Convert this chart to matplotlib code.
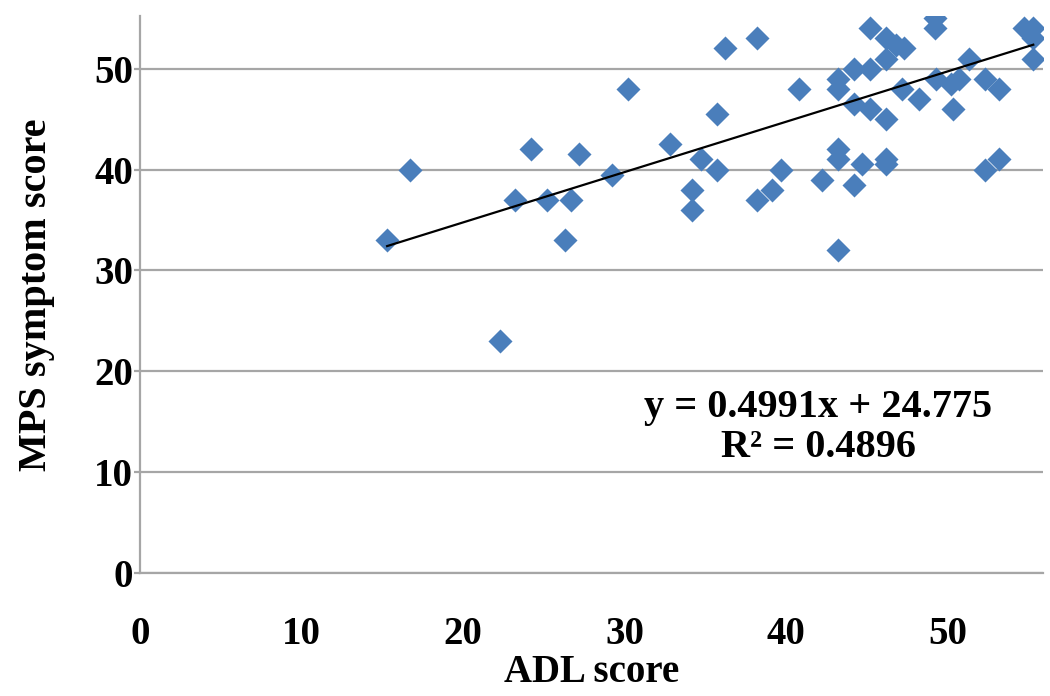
import numpy as np
import matplotlib
matplotlib.use("Agg")
import matplotlib.pyplot as plt

# ADL score vs MPS symptom score
adl = [15.3, 16.7, 22.3, 23.2, 24.2, 25.2, 26.3, 26.7, 27.2, 29.2,
       30.2, 32.8, 34.2, 34.2, 34.7, 35.7, 35.7, 36.2, 38.2, 38.2,
       39.1, 39.7, 40.8, 42.2, 43.2, 43.2, 43.2, 43.2, 43.2, 44.2,
       44.7, 44.2, 44.2, 45.2, 45.2, 45.2, 46.2, 46.2, 46.2, 46.2,
       46.2, 46.8, 47.3, 47.2, 48.2, 49.2, 49.2, 49.3, 50.3, 50.2,
       50.7, 51.3, 52.3, 53.2, 52.3, 53.2, 54.7, 55.3, 55.3, 55.3]
mps = [33, 40, 23, 37, 42, 37, 33, 37, 41.5, 39.5,
       48, 42.5, 38, 36, 41, 40, 45.5, 52, 53, 37,
       38, 40, 48, 39, 32, 42, 41, 49, 48, 38.5,
       40.5, 50, 46.5, 54, 50, 46, 45, 41, 40.5, 53,
       51, 52.3, 52, 48, 47, 55, 54, 49, 46, 48.5,
       49, 51, 49, 48, 40, 41, 54, 54, 53, 51]

slope = 0.4991
intercept = 24.775
r2 = 0.4896

xticks = [0, 10, 20, 30, 40, 50]
yticks = [0, 10, 20, 30, 40, 50]

plt.rcParams['font.family'] = ['Liberation Serif', 'DejaVu Serif']
plt.rcParams['font.weight'] = 'bold'

fig = plt.figure(figsize=(10.5, 6.96), dpi=100)
ax = fig.add_axes([0.1333, 0.1767, 0.86, 0.80])

ax.scatter(adl, mps, marker='D', s=150, color='#4a7ebb', zorder=3, linewidths=0)

# linear trend line over the data range
xs = np.array([min(adl), max(adl)])
ax.plot(xs, slope * xs + intercept, color='black', lw=1.6, zorder=4)

ax.set_xlim(0, 55.9)
ax.set_ylim(0, 55.2)
ax.set_xticks(xticks)
ax.set_yticks(yticks)
ax.grid(axis='y', color='#a6a6a6', lw=1.6)
ax.set_axisbelow(True)

for side in ['top', 'right']:
    ax.spines[side].set_visible(False)
for side in ['left', 'bottom']:
    ax.spines[side].set_color('#a6a6a6')
    ax.spines[side].set_linewidth(1.6)

ax.tick_params(axis='y', length=4, width=1.6, color='#a6a6a6', labelsize=28, pad=1)
ax.tick_params(axis='x', length=0, labelsize=28, pad=31)
for lab in ax.get_xticklabels() + ax.get_yticklabels():
    lab.set_fontweight('bold')

ax.set_xlabel("ADL score", fontsize=28, fontweight='bold', labelpad=1)
ax.set_ylabel("MPS symptom score", fontsize=29, fontweight='bold', labelpad=28)

ax.text(42, 14.4, f"y = {slope}x + {intercept}\nR² = {r2}", ha='center', va='center',
        fontsize=29, fontweight='bold', linespacing=1.1)

fig.savefig("out.png", dpi=100)
